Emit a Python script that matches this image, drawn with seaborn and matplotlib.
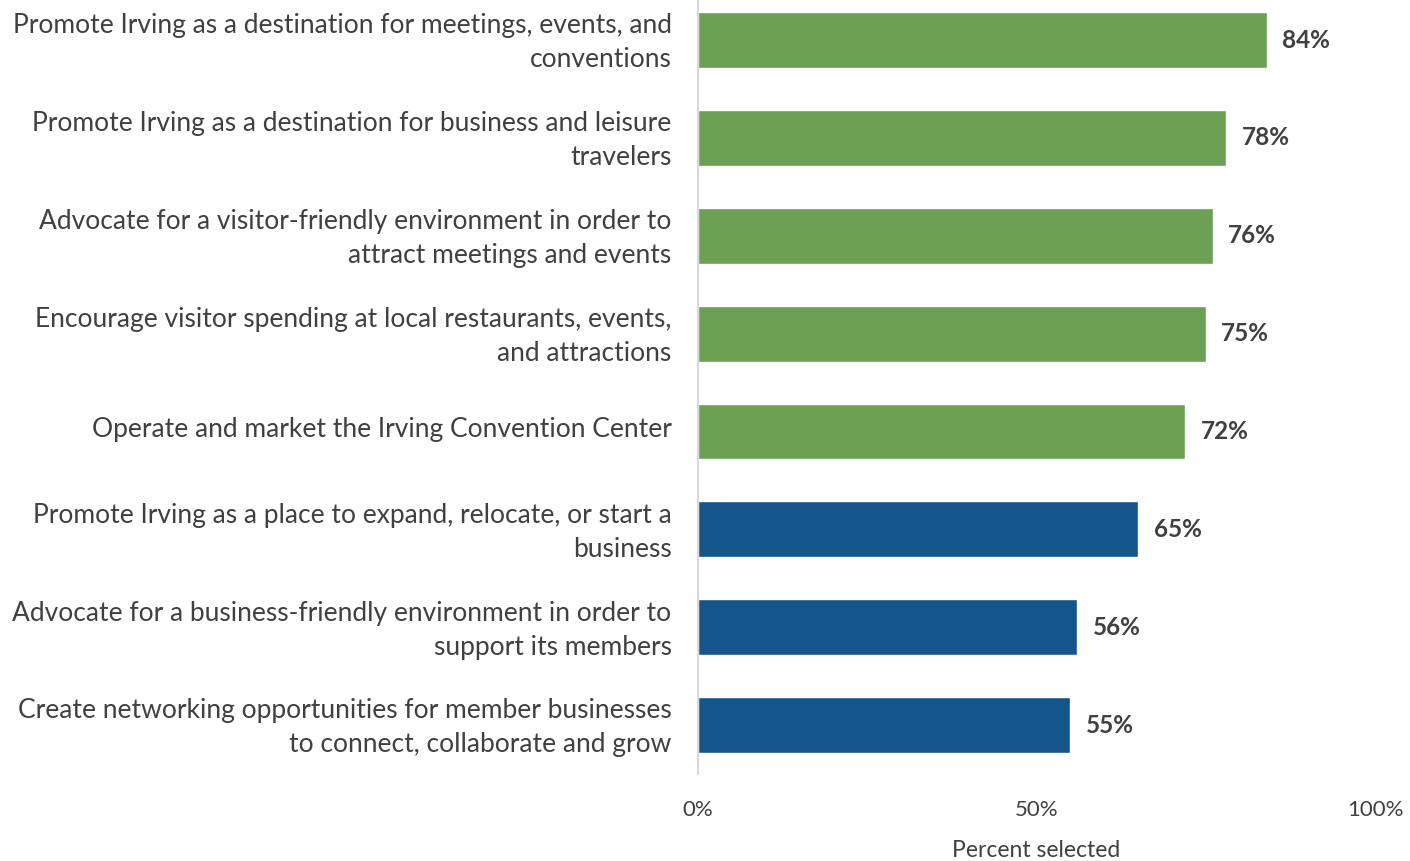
import matplotlib
matplotlib.use("Agg")
import matplotlib.pyplot as plt
import matplotlib.transforms as mtransforms
import seaborn as sns
import pandas as pd

categories = [
    "Promote Irving as a destination for meetings, events, and\nconventions",
    "Promote Irving as a destination for business and leisure\ntravelers",
    "Advocate for a visitor-friendly environment in order to\nattract meetings and events",
    "Encourage visitor spending at local restaurants, events,\nand attractions",
    "Operate and market the Irving Convention Center",
    "Promote Irving as a place to expand, relocate, or start a\nbusiness",
    "Advocate for a business-friendly environment in order to\nsupport its members",
    "Create networking opportunities for member businesses\nto connect, collaborate and grow",
]
values = [0.84, 0.78, 0.76, 0.75, 0.72, 0.65, 0.56, 0.55]
groups = ["visitor", "visitor", "visitor", "visitor", "visitor", "business", "business", "business"]
value_labels = ["84%", "78%", "76%", "75%", "72%", "65%", "56%", "55%"]
x_ticks = [0, 0.5, 1.0]
x_tick_labels = ["0%", "50%", "100%"]

GREEN = "#6BA055"
BLUE = "#165589"
TEXT = "#404040"

sns.set_theme(style="white")
plt.rcParams["font.family"] = ["Lato", "DejaVu Sans"]

df = pd.DataFrame({"cat": categories, "val": values, "grp": groups})

fig = plt.figure(figsize=(14.1, 8.61), dpi=100)
ax = fig.add_axes([698 / 1410, (861 - 774) / 861, (1375 - 698) / 1410, 774 / 861])

sns.barplot(data=df, y="cat", x="val", hue="grp", order=categories,
            palette={"visitor": GREEN, "business": BLUE}, dodge=False,
            width=0.57, legend=False, ax=ax, saturation=1)

for i, (v, lab) in enumerate(zip(values, value_labels)):
    ax.text(v + 0.023, i, lab, va="center", ha="left", fontsize=17.5,
            fontweight="bold", color=TEXT)

ax.set_xlim(0, 1.0)
ax.set_ylim(7.5, -0.41)
ax.set_xticks(x_ticks)
ax.set_xticklabels(x_tick_labels, color=TEXT, fontsize=16)
ax.tick_params(axis="x", length=0, pad=19)
ax.tick_params(axis="y", length=0, pad=19, labelsize=19, labelcolor=TEXT)
shift = mtransforms.ScaledTranslation(0, 3 / 72, fig.dpi_scale_trans)
for t in ax.get_yticklabels():
    t.set_linespacing(1.45)
    t.set_transform(t.get_transform() + shift)
ax.set_ylabel("")
ax.set_xlabel("Percent selected", fontsize=16.5, color=TEXT, labelpad=14)

for s in ["top", "right", "bottom"]:
    ax.spines[s].set_visible(False)
ax.spines["left"].set_color("#D9D9D9")
ax.spines["left"].set_linewidth(1.5)

fig.savefig("out.png", dpi=100)
